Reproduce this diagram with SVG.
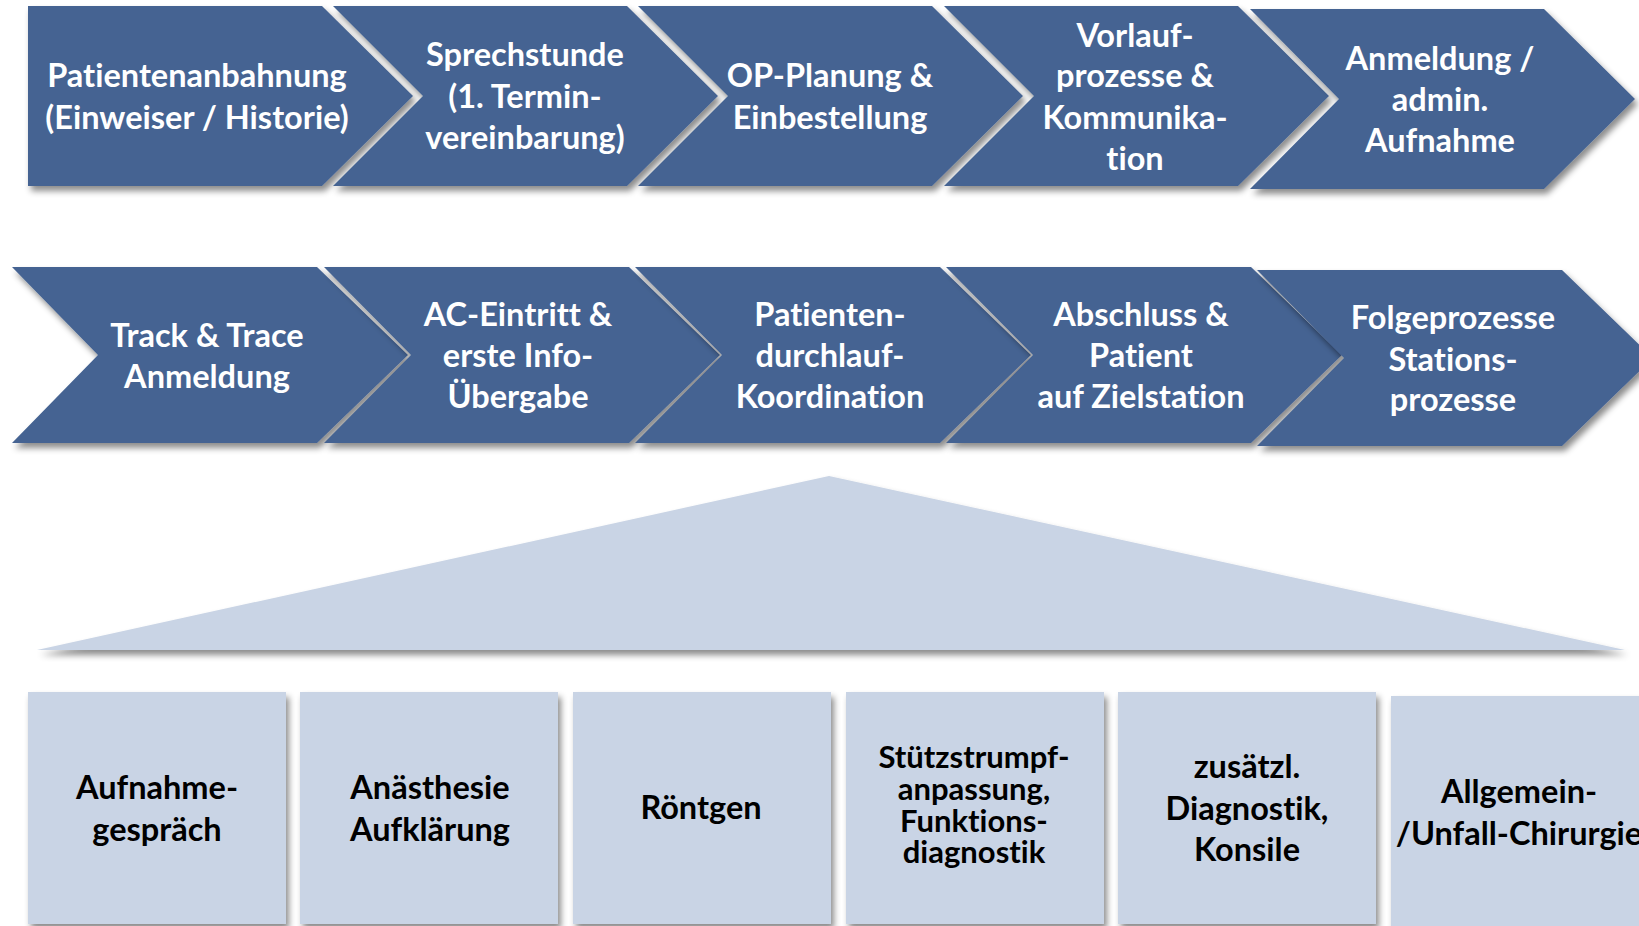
<svg xmlns="http://www.w3.org/2000/svg" width="1639" height="926" viewBox="0 0 1639 926">
<defs>
<filter id="sh" x="-10%" y="-10%" width="130%" height="140%">
<feDropShadow dx="3" dy="5" stdDeviation="3" flood-color="#000" flood-opacity="0.45"/>
</filter>
<style>
.chev{fill:#456392;filter:url(#sh);}
.tri{fill:#C9D4E5;filter:url(#sh);}
.box{fill:#C9D4E5;filter:url(#sh);}
.wt{font-family:Lato,"Open Sans",sans-serif;font-weight:bold;font-size:32.5px;fill:#fff;text-anchor:middle;font-variant-ligatures:none;}
.bt{font-family:Lato,"Open Sans",sans-serif;font-weight:bold;font-size:32.5px;fill:#000;text-anchor:middle;font-variant-ligatures:none;}
.sm{font-size:31px;}
</style>
</defs>
<rect width="1639" height="926" fill="#fff"/>

<g id="n-patientenanbahnung">
<path class="chev" d="M28,6 H322 L413,96 L322,186 H28 Z"/>
<text class="wt" x="197" y="87">Patientenanbahnung</text>
<text class="wt" x="197" y="129">(Einweiser / Historie)</text>
</g>
<g id="n-sprechstunde">
<path class="chev" d="M333,6 H627 L718,96 L627,186 H333 L423,96 Z"/>
<text class="wt" x="525" y="66">Sprechstunde</text>
<text class="wt" x="525" y="108">(1. Termin-</text>
<text class="wt" x="525" y="149">vereinbarung)</text>
</g>
<g id="n-opplanung">
<path class="chev" d="M638,6 H932 L1023,96 L932,186 H638 L728,96 Z"/>
<text class="wt" x="830" y="87">OP-Planung &amp;</text>
<text class="wt" x="830" y="129">Einbestellung</text>
</g>
<g id="n-vorlauf">
<path class="chev" d="M944,6 H1238 L1329,96 L1238,186 H944 L1034,96 Z"/>
<text class="wt" x="1135" y="47">Vorlauf-</text>
<text class="wt" x="1135" y="87">prozesse &amp;</text>
<text class="wt" x="1135" y="129">Kommunika-</text>
<text class="wt" x="1135" y="170">tion</text>
</g>
<g id="n-anmeldung">
<path class="chev" d="M1250,9 H1544 L1635,99 L1544,189 H1250 L1339,99 Z"/>
<text class="wt" x="1440" y="70">Anmeldung /</text>
<text class="wt" x="1440" y="111">admin.</text>
<text class="wt" x="1440" y="152">Aufnahme</text>
</g>

<g id="n-track">
<path class="chev" d="M12,267 H317 L408,355 L317,443 H12 L98,355 Z"/>
<text class="wt" x="207" y="347">Track &amp; Trace</text>
<text class="wt" x="207" y="388">Anmeldung</text>
</g>
<g id="n-ac">
<path class="chev" d="M324,267 H629 L720,355 L629,443 H324 L411,355 Z"/>
<text class="wt" x="518" y="326">AC-Eintritt &amp;</text>
<text class="wt" x="518" y="367">erste Info-</text>
<text class="wt" x="518" y="408">Übergabe</text>
</g>
<g id="n-durchlauf">
<path class="chev" d="M635,267 H940 L1031,355 L940,443 H635 L722,355 Z"/>
<text class="wt" x="830" y="326">Patienten-</text>
<text class="wt" x="830" y="367">durchlauf-</text>
<text class="wt" x="830" y="408">Koordination</text>
</g>
<g id="n-abschluss">
<path class="chev" d="M946,267 H1251 L1342,355 L1251,443 H946 L1033,355 Z"/>
<text class="wt" x="1141" y="326">Abschluss &amp;</text>
<text class="wt" x="1141" y="367">Patient</text>
<text class="wt" x="1141" y="408">auf Zielstation</text>
</g>
<g id="n-folge">
<path class="chev" d="M1257,270 H1562 L1653,358 L1562,446 H1257 L1344,358 Z"/>
<text class="wt" x="1453" y="329">Folgeprozesse</text>
<text class="wt" x="1453" y="371">Stations-</text>
<text class="wt" x="1453" y="411">prozesse</text>
</g>

<g id="n-triangle">
<path class="tri" d="M37,650 L829,476 L1625,650 Z"/>
</g>

<g id="n-aufnahme">
<rect class="box" x="28" y="692" width="258" height="232"/>
<text class="bt" x="157" y="799">Aufnahme-</text>
<text class="bt" x="157" y="841">gespräch</text>
</g>
<g id="n-anaesthesie">
<rect class="box" x="300" y="692" width="258" height="232"/>
<text class="bt" x="430" y="799">Anästhesie</text>
<text class="bt" x="430" y="841">Aufklärung</text>
</g>
<g id="n-roentgen">
<rect class="box" x="573" y="692" width="258" height="232"/>
<text class="bt" x="701" y="819">Röntgen</text>
</g>
<g id="n-stuetz">
<rect class="box" x="846" y="692" width="258" height="232"/>
<text class="bt sm" x="974" y="768">Stützstrumpf-</text>
<text class="bt sm" x="974" y="800">anpassung,</text>
<text class="bt sm" x="974" y="832">Funktions-</text>
<text class="bt sm" x="974" y="863">diagnostik</text>
</g>
<g id="n-zusaetzl">
<rect class="box" x="1118" y="692" width="258" height="232"/>
<text class="bt" x="1247" y="778">zusätzl.</text>
<text class="bt" x="1247" y="820">Diagnostik,</text>
<text class="bt" x="1247" y="861">Konsile</text>
</g>
<g id="n-chirurgie">
<rect class="box" x="1391" y="696" width="260" height="232"/>
<text class="bt" x="1519" y="803">Allgemein-</text>
<text class="bt" x="1519" y="845">/Unfall-Chirurgie</text>
</g>

<g id="connectors"></g>
</svg>
